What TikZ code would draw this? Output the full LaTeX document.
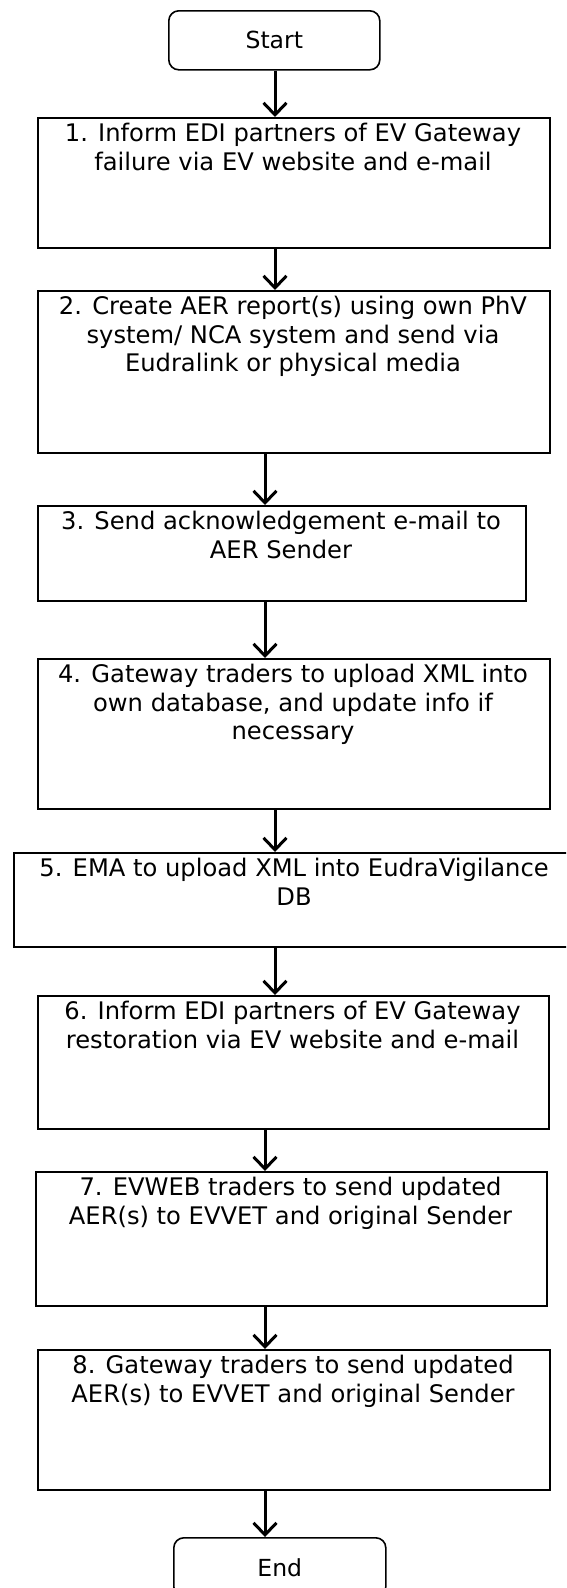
\documentclass[tikz,border=0pt]{standalone}
\usepackage{fontspec}
\setmainfont{DejaVu Sans}
\usetikzlibrary{arrows.meta}
\begin{document}
\begin{tikzpicture}[x=1pt,y=-1pt,
  box/.style={draw=black,line width=1.6pt,rectangle,inner sep=0pt,anchor=north west},
  term/.style={box,rounded corners=10pt,font=\fontsize{23.5}{28}\selectfont},
  txt/.style={anchor=north,inner sep=0pt,align=center,font=\fontsize{24.2}{28.5}\selectfont},
  arr/.style={line width=3pt,-{Straight Barb[length=12pt,width=23pt,line width=3pt]}}]
\useasboundingbox (0,0) rectangle (566,1588);
\fill[white] (0,0) rectangle (566,1588);
\begin{scope}
\clip (0,0) rectangle (566,1588);
\node[term,minimum width=211pt,minimum height=59pt] (s) at (168,10) {Start};
\node[box,minimum width=512pt,minimum height=130pt] (b1) at (37,117) {};
\node[txt] (t1) at (293,123) {1. Inform EDI partners of EV Gateway\\failure via EV website and e-mail};
\node[box,minimum width=512pt,minimum height=162pt] (b2) at (37,290) {};
\node[txt] (t2) at (293,296) {2. Create AER report(s) using own PhV\\system/ NCA system and send via\\Eudralink or physical media};
\node[box,minimum width=488pt,minimum height=95pt] (b3) at (37,505) {};
\node[txt] (t3) at (281,511) {3. Send acknowledgement e-mail to\\AER Sender};
\node[box,minimum width=512pt,minimum height=150pt] (b4) at (37,658) {};
\node[txt] (t4) at (293,664) {4. Gateway traders to upload XML into\\own database, and update info if\\necessary};
\node[box,minimum width=557pt,minimum height=94pt] (b5) at (13,852) {};
\node[txt] (t5) at (294,858) {5. EMA to upload XML into EudraVigilance\\DB};
\node[box,minimum width=511pt,minimum height=133pt] (b6) at (37,995) {};
\node[txt] (t6) at (292.5,1001) {6. Inform EDI partners of EV Gateway\\restoration via EV website and e-mail};
\node[box,minimum width=511pt,minimum height=134pt] (b7) at (35,1171) {};
\node[txt] (t7) at (290.5,1177) {7. EVWEB traders to send updated\\AER(s) to EVVET and original Sender};
\node[box,minimum width=512pt,minimum height=140pt] (b8) at (37,1349) {};
\node[txt] (t8) at (293,1355) {8. Gateway traders to send updated\\AER(s) to EVVET and original Sender};
\node[term,minimum width=212pt,minimum height=59pt] (e) at (173,1537) {End};
\coordinate (xa) at (275,0);
\coordinate (xb) at (265,0);
\draw[arr] (s.south -| xa) -- (b1.north -| xa);
\draw[arr] (b1.south -| xa) -- (b2.north -| xa);
\draw[arr] (b2.south -| xb) -- (b3.north -| xb);
\draw[arr] (b3.south -| xb) -- (b4.north -| xb);
\draw[arr] (b4.south -| xa) -- (b5.north -| xa);
\draw[arr] (b5.south -| xa) -- (b6.north -| xa);
\draw[arr] (b6.south -| xb) -- (b7.north -| xb);
\draw[arr] (b7.south -| xb) -- (b8.north -| xb);
\draw[arr] (b8.south -| xb) -- (e.north -| xb);
\end{scope}
\end{tikzpicture}
\end{document}
